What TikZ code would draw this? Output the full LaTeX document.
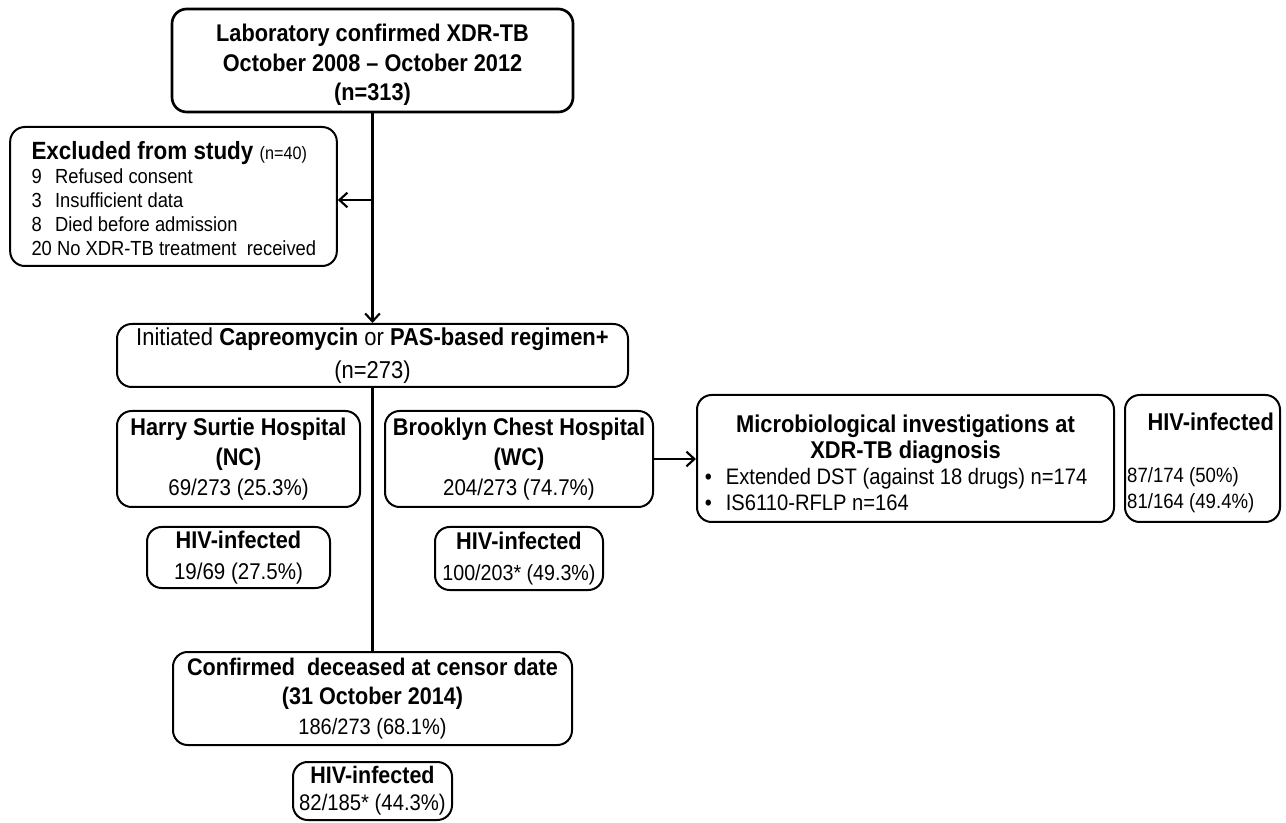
\documentclass[tikz,border=0pt]{standalone}
\usepackage{fontspec}
\setmainfont{Liberation Sans}[FakeStretch=0.9]
\usetikzlibrary{arrows.meta}
\newcommand{\fsz}[2]{\fontsize{#1}{#2}\selectfont}
\begin{document}
\begin{tikzpicture}[x=0.75pt, y=-0.75pt,
    box/.style={draw, line width=1.5pt, rounded corners=11pt, align=center, inner sep=0pt},
    conn/.style={line width=1.6pt},
    arr/.style={conn, -{Straight Barb[length=6pt, width=11pt, line width=1.6pt]}}]
    \useasboundingbox (0,0) rectangle (1286,823);
    %! --- main column ---
    \node[box, line width=2pt, minimum width=300.75pt, minimum height=77.25pt, font=\fsz{18.1}{22}\bfseries] (lab) at (372.5,60.5)
        {\rule{0pt}{20pt}Laboratory confirmed XDR-TB\\ October 2008 -- October 2012\\ (n=313)};
    \node[box, minimum width=245pt, minimum height=104.25pt, font=\fsz{15.3}{18}] (excl) at (173.5,196.5)
        {\makebox[240pt][l]{\hspace*{13.5pt}\begin{tabular}{@{}l@{\hspace{10pt}}l@{}}
        \multicolumn{2}{@{}l@{}}{\rule{0pt}{22pt}\fsz{18.7}{19.5}\bfseries Excluded from study \fsz{13.5}{18}\mdseries(n=40)}\\
        9 & Refused consent\\
        3 & Insufficient data\\
        8 & Died before admission\\
        \multicolumn{2}{@{}l@{}}{20 No XDR-TB treatment\ \ received}
        \end{tabular}}};
    \node[box, minimum width=383.25pt, minimum height=47.25pt, font=\fsz{18.3}{25}] (init) at (372.5,355.5)
        {Initiated \textbf{Capreomycin} or \textbf{PAS-based regimen+}\\ (n=273)};
    % Hospitals
    \node[box, minimum width=182.25pt, minimum height=72pt, font=\fsz{18.1}{22.5}] (harry) at (238.5,459)
        {\bfseries Harry Surtie Hospital\\ \bfseries (NC)\\ \fsz{17.1}{22.5}69/273 (25.3\%)};
    \node[box, minimum width=201pt, minimum height=72pt, font=\fsz{18.1}{22.5}] (brook) at (519,459)
        {\bfseries Brooklyn Chest Hospital\\ \bfseries (WC)\\ \fsz{17.1}{22.5}204/273 (74.7\%)};
    \node[box, minimum width=137.25pt, minimum height=45.75pt, font=\fsz{18.1}{23}] (hivnc) at (238.5,557.5)
        {\bfseries HIV-infected\\ \fsz{17.1}{23}19/69 (27.5\%)};
    \node[box, minimum width=126pt, minimum height=47.25pt, font=\fsz{18.1}{23}] (hivwc) at (519,558.5)
        {\bfseries HIV-infected\\ \fsz{16.4}{23}100/203* (49.3\%)};
    % Microbiology
    \node[box, minimum width=312.75pt, minimum height=95.25pt, font=\fsz{18.2}{19.5}] (micro) at (905.5,458.5)
        {\rule{0pt}{19pt}\bfseries Microbiological investigations at\\ \bfseries XDR-TB diagnosis\\
         \fsz{16.8}{19.5}\makebox[301pt][l]{\textbullet\hspace{10.5pt}Extended DST (against 18 drugs) n=174}\\
         \fsz{16.8}{19.5}\makebox[301pt][l]{\textbullet\hspace{10.5pt}IS6110-RFLP n=164}};
    \node[box, minimum width=116.25pt, minimum height=95.25pt, font=\fsz{18.2}{19.5}] (hivr) at (1202.5,458.5)
        {\rule{0pt}{19pt}\makebox[113pt][r]{\bfseries HIV-infected\hspace{3pt}}\\[19.5pt]
         \fsz{15.5}{19.5}\makebox[113pt][l]{87/174 (50\%)}\\ \fsz{15.5}{19.5}\makebox[113pt][l]{81/164 (49.4\%)}};
    % Outcome
    \node[box, minimum width=299.25pt, minimum height=69.75pt, font=\fsz{18}{22}] (dec) at (372.5,698.5)
        {\bfseries Confirmed\ \ deceased at censor date\\ \bfseries (31 October 2014)\\ \fsz{16.7}{22}186/273 (68.1\%)};
    \node[box, minimum width=119.25pt, minimum height=43.5pt, font=\fsz{17.9}{20.5}] (hivb) at (372.5,791)
        {\bfseries HIV-infected\\ \fsz{16.9}{20.5}82/185* (44.3\%)};
    % Connectors
    \coordinate (branch) at (372.5,200);
    \draw[arr] (lab.south) -- (init.north);
    \draw[arr] (branch) -- (branch -| excl.east);
    \draw[conn] (init.south) -- (dec.north);
    \draw[arr] (brook.east) -- (micro.west |- brook.east);
\end{tikzpicture}
\end{document}
